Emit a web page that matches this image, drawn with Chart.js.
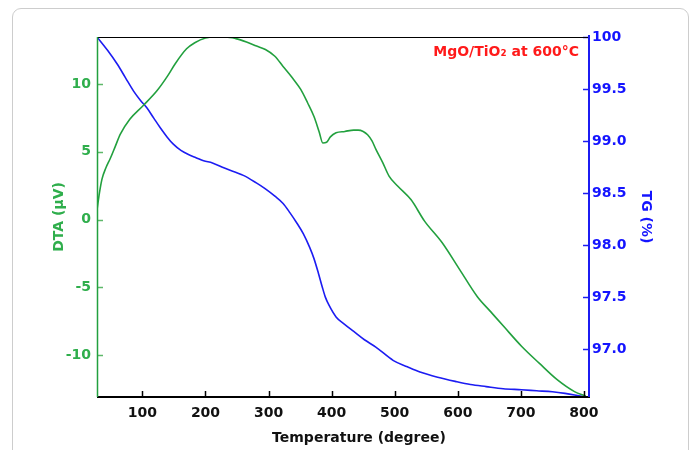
<!DOCTYPE html>
<html><head><meta charset="utf-8">
<script src="https://cdn.jsdelivr.net/npm/chart.js@4.4.1/dist/chart.umd.min.js"></script>
<style>
html,body{margin:0;padding:0;background:#fff;}
#wrap{position:relative;width:691px;height:450px;overflow:hidden;background:#fff;}
#frame{position:absolute;left:12px;top:8px;width:677px;height:480px;border:1px solid #cdcdcd;border-radius:9px;box-sizing:border-box;}
canvas{position:absolute;left:0;top:0;}
</style></head><body>
<div id="wrap"><div id="frame"></div><canvas id="c" width="691" height="450"></canvas></div>
<script>
// Temperature (degree) vs DTA (µV)
const dtaTemps  = [28, 32, 36, 42, 49, 57, 65, 80, 101, 123, 140, 152, 170, 183, 200, 215, 232, 248, 265, 281, 295, 310, 323, 337, 351, 362, 372, 380, 386, 392, 398, 407, 421, 435, 442, 450, 457, 464, 470, 481, 491, 505, 526, 547, 575, 603, 631, 652, 673, 701, 729, 757, 785, 803];
const dtaValues = [0.7, 2.0, 3.0, 3.8, 4.5, 5.4, 6.3, 7.4, 8.4, 9.5, 10.6, 11.5, 12.6, 13.05, 13.4, 13.47, 13.47, 13.35, 13.1, 12.8, 12.55, 12.05, 11.3, 10.5, 9.6, 8.6, 7.6, 6.5, 5.65, 5.7, 6.1, 6.4, 6.5, 6.6, 6.6, 6.5, 6.25, 5.8, 5.2, 4.2, 3.2, 2.45, 1.45, -0.1, -1.7, -3.7, -5.7, -6.8, -7.9, -9.35, -10.6, -11.8, -12.7, -13.05];
// Temperature (degree) vs TG (%)
const tgTemps  = [28, 45, 60, 73, 86, 97, 107, 118, 128, 139, 149, 161, 173, 185, 197, 211, 230, 260, 280, 295, 310, 323, 334, 344, 355, 365, 372, 379, 385, 390, 396, 407, 420, 435, 452, 470, 498, 520, 540, 568, 596, 620, 645, 672, 701, 725, 750, 770, 785, 802];
const tgValues = [100.0, 99.87, 99.74, 99.61, 99.48, 99.39, 99.32, 99.22, 99.13, 99.04, 98.97, 98.91, 98.87, 98.84, 98.81, 98.79, 98.74, 98.67, 98.6, 98.54, 98.47, 98.4, 98.31, 98.22, 98.11, 97.98, 97.87, 97.73, 97.6, 97.5, 97.42, 97.31, 97.24, 97.17, 97.09, 97.02, 96.89, 96.83, 96.78, 96.73, 96.69, 96.66, 96.64, 96.62, 96.61, 96.6, 96.59, 96.575, 96.56, 96.54];
const xTicks   = [100, 200, 300, 400, 500, 600, 700, 800];
const dtaTicks = [-10, -5, 0, 5, 10];
const tgTicks  = [97.0, 97.5, 98.0, 98.5, 99.0, 99.5, 100];

const GREEN = '#22a03e', GREEN_TXT = '#2fae4c', BLUE = '#1c1cf2', BLUE_TXT = '#1414ff', RED = '#ff1a1a';
const FONT = "'DejaVu Sans', sans-serif";

const deco = {
  id: 'deco',
  afterDatasetsDraw(chart) {
    const {ctx, chartArea: a, scales} = chart;
    ctx.save();
    // inward tick marks
    ctx.lineWidth = 1.5;
    ctx.strokeStyle = '#5fb86a';
    dtaTicks.forEach(v => { const y = Math.round(scales.y.getPixelForValue(v)) + 0.5; ctx.beginPath(); ctx.moveTo(a.left, y); ctx.lineTo(a.left + 6, y); ctx.stroke(); });
    ctx.strokeStyle = BLUE;
    tgTicks.forEach(v => { const y = Math.round(scales.y1.getPixelForValue(v)) + 0.5; ctx.beginPath(); ctx.moveTo(a.right - 6, y); ctx.lineTo(a.right, y); ctx.stroke(); });
    ctx.strokeStyle = '#000';
    xTicks.forEach(v => { const x = Math.round(scales.x.getPixelForValue(v)) + 0.5; ctx.beginPath(); ctx.moveTo(x, a.bottom); ctx.lineTo(x, a.bottom - 6); ctx.stroke(); });
    // frame lines
    ctx.lineWidth = 1; ctx.strokeStyle = '#000';
    ctx.beginPath(); ctx.moveTo(a.left, a.top + 0.5); ctx.lineTo(a.right, a.top + 0.5); ctx.stroke();
    ctx.lineWidth = 2;
    ctx.beginPath(); ctx.moveTo(a.left, a.bottom); ctx.lineTo(a.right + 1, a.bottom); ctx.stroke();
    ctx.lineWidth = 1.5; ctx.strokeStyle = GREEN;
    ctx.beginPath(); ctx.moveTo(a.left + 0.5, a.top); ctx.lineTo(a.left + 0.5, a.bottom); ctx.stroke();
    ctx.lineWidth = 2; ctx.strokeStyle = BLUE;
    ctx.beginPath(); ctx.moveTo(a.right, a.top - 2); ctx.lineTo(a.right, a.bottom); ctx.stroke();
    // annotation
    ctx.fillStyle = RED; ctx.font = "bold 14px " + FONT; ctx.textAlign = 'right'; ctx.textBaseline = 'middle';
    ctx.fillText('MgO/TiO\u2082 at 600\u00B0C', 579, 52);
    // x axis title (offset right of the plot centre as in the original)
    ctx.fillStyle = '#111'; ctx.textAlign = 'center';
    ctx.fillText('Temperature (degree)', 359, 438);
    ctx.restore();
  }
};

new Chart(document.getElementById('c'), {
  type: 'line',
  data: {
    datasets: [
      { label: 'DTA', data: dtaTemps.map((t, i) => ({x: t, y: dtaValues[i]})), yAxisID: 'y',
        borderColor: GREEN, borderWidth: 1.6, pointRadius: 0, cubicInterpolationMode: 'monotone', fill: false },
      { label: 'TG', data: tgTemps.map((t, i) => ({x: t, y: tgValues[i]})), yAxisID: 'y1',
        borderColor: BLUE, borderWidth: 1.6, pointRadius: 0, cubicInterpolationMode: 'monotone', fill: false }
    ]
  },
  options: {
    responsive: false, animation: false, devicePixelRatio: 1,
    layout: { padding: { top: 37, left: 0, right: 0, bottom: 0 } },
    plugins: { legend: { display: false }, tooltip: { enabled: false } },
    scales: {
      x: {
        type: 'linear', min: 28, max: 808,
        afterBuildTicks: s => { s.ticks = xTicks.map(v => ({value: v})); },
        afterFit: s => { s.height = 53; },
        grid: { display: false, drawTicks: false }, border: { display: false },
        ticks: { color: '#111', font: { family: FONT, size: 14, weight: 'bold' }, padding: 8, maxRotation: 0, autoSkip: false },
        title: { display: false }
      },
      y: {
        type: 'linear', position: 'left', min: -13.1, max: 13.47,
        afterBuildTicks: s => { s.ticks = dtaTicks.map(v => ({value: v})); },
        afterFit: s => { s.width = 97; },
        grid: { display: false, drawTicks: false }, border: { display: false },
        ticks: { color: GREEN_TXT, font: { family: FONT, size: 14, weight: 'bold' }, padding: 6, callback: v => String(v) },
        title: { display: true, text: 'DTA (\u00B5V)', color: GREEN_TXT, font: { family: FONT, size: 14, weight: 'bold' }, padding: { top: 51, bottom: 0 } }
      },
      y1: {
        type: 'linear', position: 'right', min: 96.54, max: 100,
        afterBuildTicks: s => { s.ticks = tgTicks.map(v => ({value: v})); },
        afterFit: s => { s.width = 102; },
        grid: { display: false, drawTicks: false }, border: { display: false },
        ticks: { color: BLUE_TXT, font: { family: FONT, size: 14, weight: 'bold' }, padding: 3, callback: v => (v === 100 ? '100' : v.toFixed(1)) },
        title: { display: true, text: 'TG (%)', color: BLUE_TXT, font: { family: FONT, size: 14, weight: 'bold' }, padding: { top: 37, bottom: 0 } }
      }
    }
  },
  plugins: [deco]
});
</script>
</body></html>
